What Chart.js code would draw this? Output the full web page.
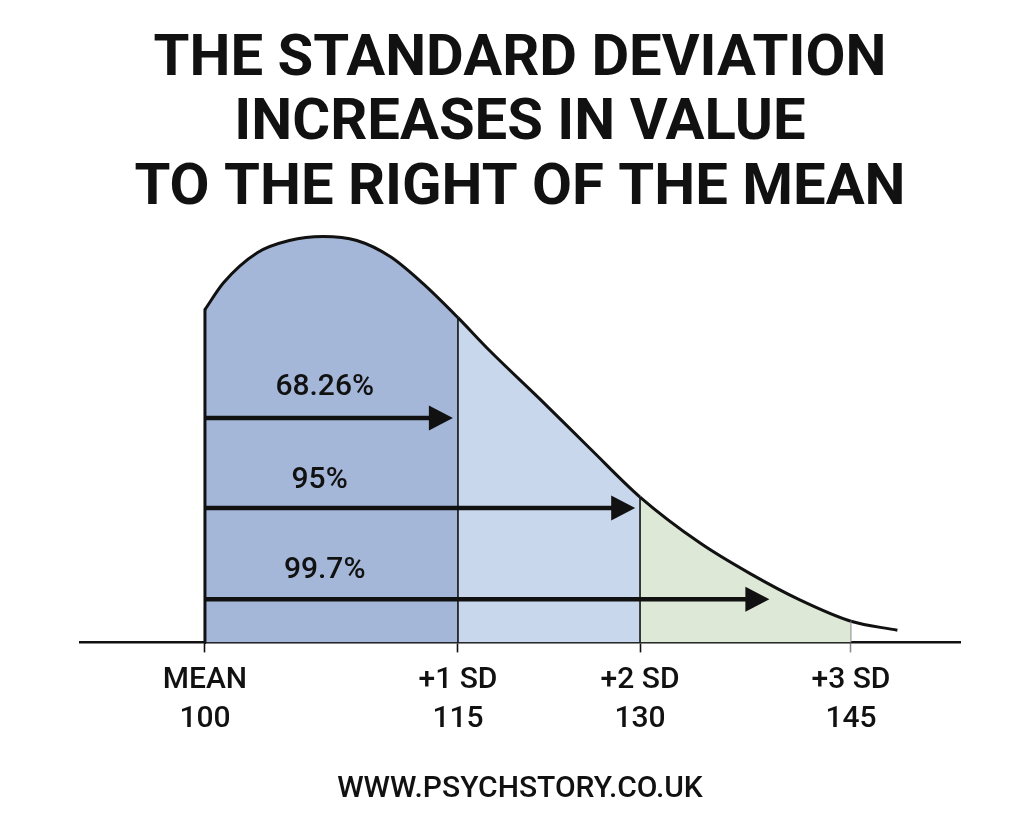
<!DOCTYPE html>
<html>
<head>
<meta charset="utf-8">
<script src="https://cdn.jsdelivr.net/npm/chart.js@4.4.1/dist/chart.umd.min.js"></script>
<style>
  html, body { margin: 0; padding: 0; background: #fff; }
</style>
</head>
<body>
<canvas id="chart" width="1023" height="819"></canvas>
<script>
const titleLines = ["THE STANDARD DEVIATION", "INCREASES IN VALUE", "TO THE RIGHT OF THE MEAN"];
const footerText = "WWW.PSYCHSTORY.CO.UK";

// score ticks on the x axis
const tickScores = [100, 115, 130, 145];
const tickNames = ["MEAN", "+1 SD", "+2 SD", "+3 SD"];

// curve (score, relative height)
const curveScores = [100, 101.1, 103.1, 105, 107, 109, 111, 112.9, 115, 117.6, 121.8, 125.9, 130, 134.3, 137.8, 141.4, 145, 148.3];
const curveHeights = [0.82, 0.886, 0.96, 0.99, 1.0, 0.99, 0.95, 0.885, 0.8, 0.719, 0.598, 0.477, 0.358, 0.244, 0.17, 0.104, 0.052, 0.03];

// coverage arrows
const coverageLabels = ["68.26%", "95%", "99.7%"];
const coverageEnds = [114.7, 129.6, 139.2];
const arrowLevels = [0.553, 0.331, 0.106];
const labelLevels = [0.637, 0.406, 0.184];
const labelScores = [107.1, 106.8, 107.1];

const bandColors = ["#a4b7d8", "#c8d7ec", "#dee8d6", "rgba(0,0,0,0)"];
const ink = "#111111";

function bandColor(score) {
  let i = 0;
  while (i < 3 && score >= tickScores[i + 1]) i++;
  return bandColors[i];
}

// the drawing is not to scale, so the x axis is stretched piece by piece
const scaleStops = [[92.6, 0], [100, 0.142], [115, 0.4295], [130, 0.6364], [145, 0.8761], [152.75, 1]];

class PiecewiseScale extends Chart.LinearScale {
  getPixelForValue(value) {
    if (value === null || isNaN(value)) return NaN;
    let i = 1;
    while (i < scaleStops.length - 1 && value > scaleStops[i][0]) i++;
    const [v0, d0] = scaleStops[i - 1];
    const [v1, d1] = scaleStops[i];
    return this.getPixelForDecimal(d0 + (value - v0) / (v1 - v0) * (d1 - d0));
  }
  getValueForPixel(pixel) {
    const dec = this.getDecimalForPixel(pixel);
    let i = 1;
    while (i < scaleStops.length - 1 && dec > scaleStops[i][1]) i++;
    const [v0, d0] = scaleStops[i - 1];
    const [v1, d1] = scaleStops[i];
    return v0 + (dec - d0) / (d1 - d0) * (v1 - v0);
  }
}
PiecewiseScale.id = "piecewise";
PiecewiseScale.defaults = Chart.LinearScale.defaults;
Chart.register(PiecewiseScale);

const markers = {
  id: "markers",
  afterDatasetsDraw(chart) {
    const { ctx, scales: { x, y } } = chart;
    const pts = chart.getDatasetMeta(0).data;
    const base = y.getPixelForValue(0);
    ctx.save();

    // boundary lines up to the curve
    tickScores.forEach((s, i) => {
      const p = pts[curveScores.indexOf(s)];
      ctx.beginPath();
      ctx.strokeStyle = i === 3 ? "#8c8c8c" : ink;
      ctx.lineWidth = i === 0 ? 3 : (i === 3 ? 1 : 1.6);
      ctx.lineCap = i === 0 ? "round" : "butt";
      ctx.moveTo(p.x, base);
      ctx.lineTo(p.x, p.y);
      ctx.stroke();
    });

    // arrows and percentages
    const x0 = x.getPixelForValue(tickScores[0]);
    coverageEnds.forEach((end, i) => {
      const py = y.getPixelForValue(arrowLevels[i]);
      const tip = x.getPixelForValue(end);
      ctx.strokeStyle = ink;
      ctx.fillStyle = ink;
      ctx.lineWidth = 4.5;
      ctx.lineCap = "butt";
      ctx.beginPath();
      ctx.moveTo(x0, py);
      ctx.lineTo(tip - 20, py);
      ctx.stroke();
      ctx.beginPath();
      ctx.moveTo(tip, py);
      ctx.lineTo(tip - 24, py - 12.5);
      ctx.lineTo(tip - 24, py + 12.5);
      ctx.closePath();
      ctx.fill();

      ctx.font = "500 30px Roboto, 'Liberation Sans', sans-serif";
      ctx.textAlign = "center";
      ctx.textBaseline = "alphabetic";
      ctx.fillText(coverageLabels[i], x.getPixelForValue(labelScores[i]), y.getPixelForValue(labelLevels[i]) + 10.7);
    });
    ctx.restore();
  }
};

new Chart(document.getElementById("chart"), {
  type: "line",
  data: {
    datasets: [{
      data: curveScores.map((s, i) => ({ x: s, y: curveHeights[i] })),
      borderColor: ink,
      borderWidth: 3,
      borderJoinStyle: "round",
      pointRadius: 0,
      cubicInterpolationMode: "monotone",
      fill: "origin",
      backgroundColor: bandColors[0],
      segment: { backgroundColor: (c) => bandColor(c.p0.parsed.x) },
      clip: false,
    }],
  },
  options: {
    responsive: false,
    animation: false,
    events: [],
    layout: { padding: { left: 80, right: 63, top: 0, bottom: 0 } },
    plugins: {
      legend: { display: false },
      tooltip: { enabled: false },
      title: {
        display: true,
        text: titleLines,
        color: ink,
        font: { family: "Roboto", weight: "bold", size: 58, lineHeight: 64.5 / 58 },
        padding: { top: 28, bottom: 15 },
      },
      subtitle: {
        display: true,
        position: "bottom",
        text: footerText,
        color: ink,
        font: { family: "Roboto", weight: "500", size: 30, lineHeight: 1.2 },
        padding: { top: 22.6, bottom: 12 },
      },
    },
    scales: {
      x: {
        type: "piecewise",
        min: scaleStops[0][0],
        max: scaleStops[scaleStops.length - 1][0],
        afterBuildTicks: (s) => { s.ticks = tickScores.map((v) => ({ value: v })); },
        ticks: {
          callback: (v, i) => [tickNames[i], String(v)],
          color: ink,
          font: { family: "Roboto", weight: "500", size: 30, lineHeight: "39px" },
          padding: 9,
          maxRotation: 0,
          autoSkip: false,
        },
        grid: {
          drawOnChartArea: false,
          tickLength: 10,
          tickWidth: 1.6,
          tickColor: (c) => (c.tick && c.tick.value === 145 ? "#8c8c8c" : ink),
        },
        border: { color: ink, width: 2.5 },
      },
      y: { min: 0, max: 1, display: false },
    },
  },
  plugins: [markers],
});
</script>
</body>
</html>
